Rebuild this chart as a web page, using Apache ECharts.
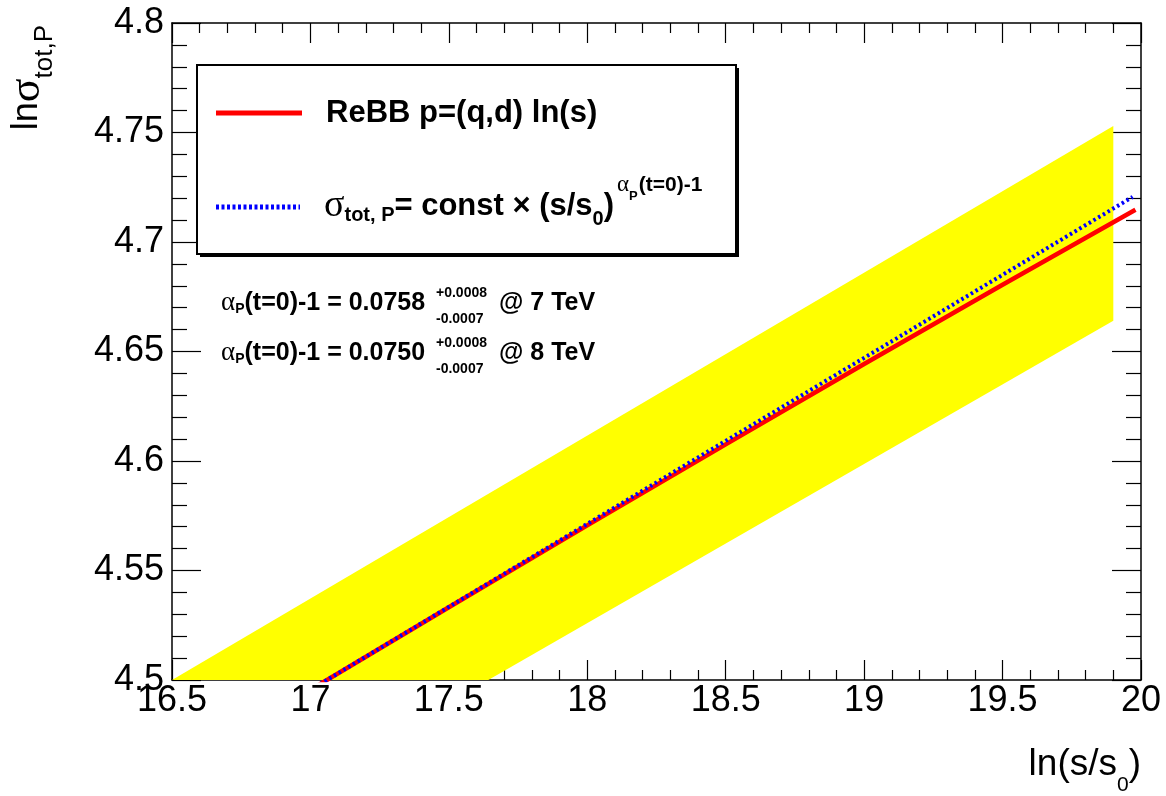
<!DOCTYPE html>
<html>
<head>
<meta charset="utf-8">
<title>ln sigma_tot vs ln(s/s0)</title>
<script src="https://cdn.jsdelivr.net/npm/echarts@6/dist/echarts.min.js"></script>
<style>
  html, body { margin: 0; padding: 0; background: #fff; }
  #chart { width: 1166px; height: 796px; }
</style>
</head>
<body>
<div id="chart"></div>
<script>
// ReBB model curve: ln(s/s0) -> ln sigma_tot,P
const lnsReBB = [17.0, 17.5, 18.0, 18.5, 19.0, 19.5, 19.98];
const sigmaReBB = [4.4955, 4.5332, 4.5706, 4.6076, 4.6443, 4.6805, 4.7147];

// Power-law fit: ln sigma = const + (alpha_P(0)-1) ln(s/s0)
const lnsPower = [17.0, 17.5, 18.0, 18.5, 19.0, 19.5, 19.97];
const sigmaPower = [4.4955, 4.5334, 4.5713, 4.6092, 4.6471, 4.6850, 4.7206];

// Uncertainty band around the ReBB curve
const bandX = [16.5, 19.9];
const bandUpper = [4.500, 4.753];
const bandLower = [4.417, 4.664];

// Axis ranges and tick steps
const xRange = [16.5, 20];
const xStep = 0.5;
const yRange = [4.5, 4.8];
const yStep = 0.05;

// Fitted intercept values quoted in the plot
const fitLabels = ['0.0758', '0.0750'];
const fitErrUp = ['+0.0008', '+0.0008'];
const fitErrDown = ['-0.0007', '-0.0007'];
const fitEnergies = ['7 TeV', '8 TeV'];

const SANS = '"Liberation Sans", Arial, Helvetica, sans-serif';
const SERIF = '"Liberation Serif", "Times New Roman", serif';

const chart = echarts.init(document.getElementById('chart'), null, { renderer: 'canvas' });

function xAxisDef(position, showLabels) {
  return {
    type: 'value',
    position: position,
    min: xRange[0],
    max: xRange[1],
    interval: xStep,
    axisLine: { show: true, onZero: false, lineStyle: { color: '#000', width: 1.5 } },
    axisTick: { show: true, inside: true, length: 20, lineStyle: { color: '#000', width: 1.2 } },
    minorTick: { show: true, splitNumber: 5, length: 10, lineStyle: { color: '#000', width: 1.2 } },
    splitLine: { show: false },
    minorSplitLine: { show: false },
    axisLabel: {
      show: showLabels,
      margin: 3,
      color: '#000',
      fontFamily: SANS,
      fontSize: 36,
      showMinLabel: true,
      showMaxLabel: true
    }
  };
}

function yAxisDef(position, showLabels) {
  return {
    type: 'value',
    position: position,
    min: yRange[0],
    max: yRange[1],
    interval: yStep,
    axisLine: { show: true, onZero: false, lineStyle: { color: '#000', width: 1.5 } },
    axisTick: { show: true, inside: true, length: 29, lineStyle: { color: '#000', width: 1.2 } },
    minorTick: { show: true, splitNumber: 5, length: 15, lineStyle: { color: '#000', width: 1.2 } },
    splitLine: { show: false },
    minorSplitLine: { show: false },
    axisLabel: {
      show: showLabels,
      margin: 8,
      color: '#000',
      fontFamily: SANS,
      fontSize: 36,
      showMinLabel: true,
      showMaxLabel: true
    }
  };
}

function pairs(xs, ys) {
  return xs.map((x, i) => [x, ys[i]]);
}

// legend and annotation texts
const graphics = [];

// legend box with drop shadow
graphics.push({
  type: 'rect', z: 100, silent: true,
  shape: { x: 200, y: 68, width: 539, height: 189 },
  style: { fill: '#000' }
});
graphics.push({
  type: 'rect', z: 101, silent: true,
  shape: { x: 197, y: 65, width: 539, height: 189 },
  style: { fill: '#fff', stroke: '#000', lineWidth: 2 }
});
// legend samples
graphics.push({
  type: 'line', z: 102, silent: true,
  shape: { x1: 216, y1: 113, x2: 302, y2: 113 },
  style: { stroke: '#ff0000', lineWidth: 5 }
});
graphics.push({
  type: 'line', z: 102, silent: true,
  shape: { x1: 216, y1: 207, x2: 300, y2: 207 },
  style: { stroke: '#0000ff', lineWidth: 5, lineDash: [3, 2.5] }
});
graphics.push({
  type: 'text', z: 102, silent: true,
  x: 326, y: 113,
  style: {
    text: 'ReBB p=(q,d) ln(s)',
    font: 'bold 31px ' + SANS,
    fill: '#000',
    align: 'left', verticalAlign: 'middle',
    textAlign: 'left', textVerticalAlign: 'middle'
  }
});
graphics.push({
  type: 'text', z: 102, silent: true,
  x: 324, y: 206,
  style: {
    text: '{g|σ}{s1|tot, P}{b|= const × (s/s}{s2|0}{b|)}{ga|α}{gp|P}{sp|(t=0)-1}',
    fill: '#000',
    align: 'left', verticalAlign: 'middle',
    textAlign: 'left', textVerticalAlign: 'middle',
    font: 'bold 31px ' + SANS,
    rich: {
      g: { fontFamily: SERIF, fontSize: 38, fontWeight: 'normal', fill: '#000' },
      s1: { fontFamily: SANS, fontSize: 20, fontWeight: 'bold', fill: '#000', padding: [18, 0, 0, 0] },
      b: { fontFamily: SANS, fontSize: 31, fontWeight: 'bold', fill: '#000' },
      s2: { fontFamily: SANS, fontSize: 20, fontWeight: 'bold', fill: '#000', padding: [26, 0, 0, 0] },
      ga: { fontFamily: SERIF, fontSize: 23, fontWeight: 'normal', fill: '#000', padding: [0, 0, 42, 3] },
      gp: { fontFamily: SANS, fontSize: 13, fontWeight: 'bold', fill: '#000', padding: [0, 0, 20, 0] },
      sp: { fontFamily: SANS, fontSize: 21, fontWeight: 'bold', fill: '#000', padding: [0, 0, 42, 1] }
    }
  }
});

// fitted alpha_P(0)-1 values with asymmetric errors
const fitRowY = [303, 353];
fitLabels.forEach((val, i) => {
  const y = fitRowY[i];
  graphics.push({
    type: 'text', z: 102, silent: true,
    x: 221, y: y,
    style: {
      text: '{ga|α}{gp|P}{b|(t=0)-1 = ' + val + '}',
      fill: '#000',
      align: 'left', verticalAlign: 'middle',
      textAlign: 'left', textVerticalAlign: 'middle',
      font: 'bold 25px ' + SANS,
      rich: {
        ga: { fontFamily: SERIF, fontSize: 27, fontWeight: 'normal', fill: '#000' },
        gp: { fontFamily: SANS, fontSize: 14, fontWeight: 'bold', fill: '#000', padding: [12, 0, 0, 0] },
        b: { fontFamily: SANS, fontSize: 25, fontWeight: 'bold', fill: '#000' }
      }
    }
  });
  graphics.push({
    type: 'text', z: 102, silent: true,
    x: 436, y: y - 10,
    style: {
      text: fitErrUp[i], font: 'bold 14px ' + SANS, fill: '#000',
      align: 'left', verticalAlign: 'middle', textAlign: 'left', textVerticalAlign: 'middle'
    }
  });
  graphics.push({
    type: 'text', z: 102, silent: true,
    x: 436, y: y + 16,
    style: {
      text: fitErrDown[i], font: 'bold 14px ' + SANS, fill: '#000',
      align: 'left', verticalAlign: 'middle', textAlign: 'left', textVerticalAlign: 'middle'
    }
  });
  graphics.push({
    type: 'text', z: 102, silent: true,
    x: 499, y: y,
    style: {
      text: '@ ' + fitEnergies[i], font: 'bold 25px ' + SANS, fill: '#000',
      align: 'left', verticalAlign: 'middle', textAlign: 'left', textVerticalAlign: 'middle'
    }
  });
});

// axis titles
graphics.push({
  type: 'text', z: 102, silent: true,
  x: 27, y: 25, rotation: Math.PI / 2,
  style: {
    text: '{a|ln}{g|σ}{s|tot,P}',
    fill: '#000',
    align: 'right', verticalAlign: 'middle',
    textAlign: 'right', textVerticalAlign: 'middle',
    font: '36px ' + SANS,
    rich: {
      a: { fontFamily: SANS, fontSize: 36, fill: '#000' },
      g: { fontFamily: SERIF, fontSize: 44, fill: '#000' },
      s: { fontFamily: SANS, fontSize: 26, fill: '#000', padding: [36, 0, 0, 0] }
    }
  }
});
graphics.push({
  type: 'text', z: 102, silent: true,
  x: 1141, y: 765,
  style: {
    text: '{a|ln(s/s}{s|0}{a|)}',
    fill: '#000',
    align: 'right', verticalAlign: 'middle',
    textAlign: 'right', textVerticalAlign: 'middle',
    font: '37px ' + SANS,
    rich: {
      a: { fontFamily: SANS, fontSize: 37, fill: '#000' },
      s: { fontFamily: SANS, fontSize: 21, fill: '#000', padding: [40, 0, 0, 0] }
    }
  }
});

const option = {
  animation: false,
  backgroundColor: '#fff',
  grid: {
    left: 172, top: 23, width: 969, height: 657,
    containLabel: false,
    outerBoundsMode: 'none',
    show: false
  },
  xAxis: [xAxisDef('bottom', true), xAxisDef('top', false)],
  yAxis: [yAxisDef('left', true), yAxisDef('right', false)],
  series: [
    {
      name: 'band',
      type: 'custom',
      xAxisIndex: 0, yAxisIndex: 0,
      clip: true,
      silent: true,
      z: 1,
      data: [[bandX[0], bandUpper[0]]],
      renderItem: function (params, api) {
        const pts = [];
        for (let i = 0; i < bandX.length; i++) pts.push(api.coord([bandX[i], bandUpper[i]]));
        for (let i = bandX.length - 1; i >= 0; i--) pts.push(api.coord([bandX[i], bandLower[i]]));
        return {
          type: 'polygon',
          shape: { points: pts },
          style: { fill: '#ffff00', stroke: null }
        };
      }
    },
    {
      name: 'ReBB p=(q,d) ln(s)',
      type: 'line',
      xAxisIndex: 0, yAxisIndex: 0,
      data: pairs(lnsReBB, sigmaReBB),
      showSymbol: false,
      symbol: 'none',
      clip: true,
      z: 3,
      lineStyle: { color: '#ff0000', width: 4.5 }
    },
    {
      name: 'power law',
      type: 'line',
      xAxisIndex: 0, yAxisIndex: 0,
      data: pairs(lnsPower, sigmaPower),
      showSymbol: false,
      symbol: 'none',
      clip: true,
      z: 4,
      lineStyle: { color: '#0000ff', width: 4, type: [2.5, 3] }
    }
  ],
  graphic: { elements: graphics }
};

chart.setOption(option);
</script>
</body>
</html>
